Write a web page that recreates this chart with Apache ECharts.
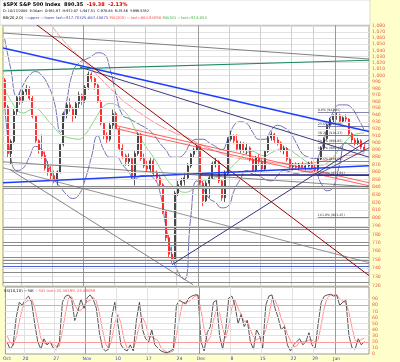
<!DOCTYPE html>
<html><head><meta charset="utf-8">
<script src="https://cdn.jsdelivr.net/npm/echarts@6/dist/echarts.min.js"></script>
<style>html,body{margin:0;padding:0;background:#ffffcc}#c{width:400px;height:362px}</style>
</head><body><div id="c"></div>
<script>
// ---------- DATA ----------
const dayNames = ['Oct 15','Oct 16','Oct 17','Oct 20','Oct 21','Oct 22','Oct 23','Oct 24','Oct 27','Oct 28','Oct 29','Oct 30','Oct 31',
 'Nov 3','Nov 4','Nov 5','Nov 6','Nov 7','Nov 10','Nov 11','Nov 12','Nov 13','Nov 14','Nov 17','Nov 18','Nov 19','Nov 20','Nov 21','Nov 24','Nov 25','Nov 26','Nov 28',
 'Dec 1','Dec 2','Dec 3','Dec 4','Dec 5','Dec 8','Dec 9','Dec 10','Dec 11','Dec 12','Dec 15','Dec 16','Dec 17','Dec 18','Dec 19','Dec 22','Dec 23','Dec 24','Dec 26','Dec 29','Dec 30','Dec 31',
 'Jan 2','Jan 5','Jan 6','Jan 7','Jan 8','Jan 9'];
const sessionsPerDay = [2,2,2,2,2,2,2,2,2,2,2,2,2,
 2,2,2,2,2,2,2,2,2,2,2,2,2,2,2,2,2,2,1,
 2,2,2,2,2,2,2,2,2,2,2,2,2,2,2,2,2,1,2,2,2,2,
 1,2,2,2,2,2];
const weekLabels = {'Oct 15':'Oct','Oct 20':'20','Oct 27':'27','Nov 3':'Nov','Nov 10':'10','Nov 17':'17','Nov 24':'24',
 'Dec 1':'Dec','Dec 8':'8','Dec 15':'15','Dec 22':'22','Dec 29':'29','Jan 5':'Jan'};
const weekStarts = ['Oct 20','Oct 27','Nov 10','Nov 17','Nov 24','Dec 8','Dec 15','Dec 22','Dec 29'];
const monthStarts = ['Nov 3','Dec 1','Jan 5'];

const opens  = [993,952,885,902,945,966,962,975,980,965,938,903,890,882,865,860,855,850,860,898,942,955,950,940,957,970,963,982,1002,995,
 985,960,928,910,905,925,942,920,892,882,874,878,853,885,912,878,868,864,875,858,852,843,808,776,756,750,832,843,848,852,
 868,884,890,895,845,822,845,852,871,874,848,826,858,905,910,903,891,899,890,893,877,862,879,874,864,888,907,912,904,900,
 890,892,877,867,868,866,869,866,868,871,866,863,878,893,906,925,933,938,940,931,936,934,913,904,899,903,894];
const highs  = [996,955,905,950,970,975,978,985,983,970,940,905,912,888,875,868,862,862,900,945,958,965,952,960,975,972,985,1006,1005,997,
 987,962,930,915,930,948,945,922,898,885,885,880,890,915,914,885,875,880,878,862,856,845,810,780,765,835,848,852,858,872,
 886,893,897,896,848,848,855,874,880,876,850,862,908,917,912,912,902,901,900,895,880,882,884,877,890,910,916,914,908,902,
 896,894,880,872,873,872,874,871,874,875,870,880,895,908,927,936,941,944,942,938,941,935,915,907,907,905,898];
const lows   = [950,880,870,898,940,955,958,970,962,935,900,885,878,862,855,850,845,842,858,895,935,945,930,935,950,955,958,978,990,978,
 958,925,905,900,902,920,918,888,878,868,868,850,842,882,875,865,860,860,855,848,840,805,772,752,746,748,828,838,842,850,
 865,880,888,842,815,820,826,850,866,845,822,820,855,902,898,888,886,886,884,874,858,858,868,860,862,886,903,900,896,887,
 884,874,864,862,863,862,864,862,866,864,860,861,876,890,904,920,929,933,928,929,930,910,900,896,897,891,888];
const closes = [952,885,902,945,966,962,975,980,965,938,903,890,882,865,860,855,850,860,898,942,955,950,940,957,970,963,982,1002,995,985,
 960,928,910,905,925,942,920,892,882,874,878,853,885,912,878,868,864,875,858,852,843,808,776,756,750,832,843,848,852,868,
 884,890,895,845,822,845,852,871,874,848,826,858,905,910,903,891,899,890,893,877,862,879,874,864,888,907,912,904,900,890,
 892,877,867,868,866,869,866,868,871,866,863,878,893,906,925,933,938,940,931,936,934,913,904,899,903,894,890.35];

// overlays sampled every second session
const bandSlots = [0,2,4,6,8,10,12,14,16,18,20,22,24,26,28,30,32,34,36,38,40,42,44,46,48,50,52,54,56,58,60,62,64,66,68,70,72,74,76,78,80,82,84,86,88,90,92,94,96,98,100,102,104,106,108,110,112,114,116];
const bbUpper = [1060,1010,968,985,1000,1006,1000,985,960,915,960,1005,1020,1025,1030,1036,1034,1010,970,940,935,930,925,920,912,900,890,880,880,885,
 900,905,905,900,895,890,905,925,930,928,915,905,905,918,925,922,915,900,885,880,878,890,920,945,955,955,950,935,918];
const bbLower = [960,880,862,865,880,895,890,870,850,840,830,825,830,850,880,910,890,880,880,870,860,850,855,855,852,835,790,755,735,727,
 800,848,838,825,820,813,815,835,850,862,857,855,850,848,855,862,860,858,860,861,860,845,835,840,870,900,895,890,887];
const ma50 = [977,962,948,943,947,950,943,932,922,912,908,906,905,912,925,940,953,957,955,948,938,920,905,892,880,866,852,842,836,833,
 835,842,848,850,852,856,862,870,878,886,888,884,882,886,890,893,890,884,878,872,869,869,872,880,892,902,910,913,914];
const ma200 = [1160,1150,1140,1130,1120,1110,1100,1088,1075,1062,1050,1040,1030,1020,1010,1000,990,980,972,962,955,948,942,936,930,925,920,916,912,909,
 905,900,896,892,889,885,882,880,878,877,876,875,874,873,872,872,871,871,871,872,873,874,876,878,880,882,883,884,885];

const stochK = [20,8,15,60,85,80,90,95,85,50, 20,8,25,15,20,10,8,20,85,95, 97,90,55,70,90,75,92,97,90,75, 35,10,5,8,60,85,50,15,8,5,
 15,5,55,85,40,25,20,40,15,10, 5,3,2,5,8,80,88,85,82,92, 95,97,97,20,5,35,45,85,88,30, 8,40,92,95,80,50,65,45,55,20,
 8,40,30,10,80,95,97,75,60,40, 45,15,5,15,20,25,15,20,35,15, 8,50,85,95,97,98,95,97,80,85, 88,30,10,8,25,15,20.36];
const stochD = [30,20,14,28,53,75,85,88,90,77, 52,26,18,16,20,15,13,13,38,67, 92,94,81,72,72,78,86,88,93,87, 67,40,17,8,24,51,65,50,24,9,
 9,8,25,48,60,50,28,28,25,22, 10,6,3,3,5,31,59,84,85,86, 90,95,96,71,41,20,28,55,73,68, 42,26,47,76,89,75,65,53,55,40,
 28,23,26,27,40,62,91,89,77,58, 48,33,22,12,13,20,20,20,23,23, 19,24,48,77,92,97,97,97,91,87, 84,68,43,22,20,24,25.89];

const priceTicks = [720,730,740,750,760,770,780,790,800,810,820,830,840,850,860,870,880,890,900,910,920,930,940,950,960,970,980,990,1000,1010,1020,1030,1040,1050,1060,1070,1080];
const oscTicks = [10,20,30,40,50,60,70,80,90];
const oscBands = [20,80];
const srLevels = [840.5,838,789,786,771,767,752,749,745,735,724];
const srBlueLevel = [741.5];
const lastPrice = 890.35;

// trend lines: [session position, price]
const tlMaroon   = [[10.46,1082],[117.5,731.3]];
const tlBlue     = [[-0.5,1043.7],[117.5,916]];
const tlNavy     = [[24.3,1013],[117.5,880]];
const tlTeal     = [[-0.5,1007],[117.5,1024]];
const tlGrayTop  = [[-0.5,1068.5],[117.5,1026]];
const tlRedA     = [[36.25,924.2],[117.5,845.5]];
const tlRedB     = [[36.25,919.8],[117.5,841.5]];
const tlBlueLow  = [[-0.5,845.5],[117.5,868.3]];
const tlNavyFlat = [[63.0,855.84],[117.5,855.84]];
const tlNavyUp   = [[54.0,744],[117.5,904]];
const tlGrayUp   = [[100.7,856],[117.5,893]];
const tlGrayDiag = [[1.76,863],[60.75,721]];
const tlGrayMid  = [[-0.5,873.7],[117.5,840.2]];
const tlGrayLow  = [[-0.5,865.5],[117.5,746.3]];

const fibLabels = ['0.0%','23.6%','38.2%','50.0%','61.8%','78.6%','100.0%','161.8%'];
const fibValues = [943.85,923.08,910.23,899.85,889.47,874.64,855.84,801.45];
const fibStart = 101.0;

// ---------- BUILD ----------
const cats = []; const firstSlot = {};
dayNames.forEach((d,k)=>{ firstSlot[d]=cats.length; for(let j=0;j<sessionsPerDay[k];j++) cats.push(d+' #'+(j+1)); });
cats.push(' ');
const nCat = cats.length;
const candleData = opens.map((o,i)=>[o, closes[i], lows[i], highs[i]]);
const pair = (arr)=>bandSlots.map((s,k)=>[s, arr[k]]);
const fmtPrice = v => v.toLocaleString('en-US');

const FONT = 'DejaVu Sans';
const tl = (d,color,width)=>({type:'line', xAxisIndex:1, yAxisIndex:0, data:d, symbol:'none', silent:true, z:5,
  lineStyle:{color, width}, animation:false});

const series = [
 {type:'line', xAxisIndex:1, yAxisIndex:0, data:[], z:1, silent:true,
  markLine:{silent:true, symbol:'none', animation:false,
   lineStyle:{color:'#e2e2e2', width:1, type:'solid'},
   label:{position:'end', formatter:p=>fmtPrice(p.value), color:'#e8604c', fontSize:4.6, fontFamily:FONT, distance:3},
   data: priceTicks.map(v=>({yAxis:v}))}},
 {type:'line', xAxisIndex:1, yAxisIndex:0, data:[], z:1, silent:true,
  markLine:{silent:true, symbol:'none', animation:false, label:{show:false},
   lineStyle:{color:'#cfcfcf', width:1, type:'solid'},
   data: weekStarts.map(d=>({xAxis:firstSlot[d]-0.5}))}},
 {type:'line', xAxisIndex:1, yAxisIndex:0, data:[], z:1, silent:true,
  markLine:{silent:true, symbol:'none', animation:false, label:{show:false},
   lineStyle:{color:'#9a9a9a', width:1, type:'solid'},
   data: monthStarts.map(d=>({xAxis:firstSlot[d]-0.5}))}},
 {type:'line', xAxisIndex:1, yAxisIndex:0, data:[], z:2, silent:true,
  markLine:{silent:true, symbol:'none', animation:false, label:{show:false},
   lineStyle:{color:'#8a8a8a', width:1, type:'solid'},
   data: srLevels.map(v=>({yAxis:v}))}},
 {type:'line', xAxisIndex:1, yAxisIndex:0, data:[], z:2, silent:true,
  markLine:{silent:true, symbol:'none', animation:false, label:{show:false},
   lineStyle:{color:'#4a5fd0', width:1, type:'solid'},
   data: srBlueLevel.map(v=>({yAxis:v}))}},
 {type:'line', xAxisIndex:0, yAxisIndex:0, data:pair(ma200), symbol:'none', smooth:true, lineStyle:{color:'#ff8c8c', width:1}, z:3, silent:true},
 {type:'line', xAxisIndex:0, yAxisIndex:0, data:pair(ma50), symbol:'none', smooth:true, lineStyle:{color:'#7fd67f', width:1}, z:3, silent:true},
 {type:'line', xAxisIndex:0, yAxisIndex:0, data:pair(bbUpper), symbol:'none', smooth:true, lineStyle:{color:'#6f6fb8', width:1}, z:3, silent:true},
 {type:'line', xAxisIndex:0, yAxisIndex:0, data:pair(bbLower), symbol:'none', smooth:true, lineStyle:{color:'#6f6fb8', width:1}, z:3, silent:true},
 {type:'candlestick', xAxisIndex:0, yAxisIndex:0, data:candleData, barWidth:1.5, z:4, silent:true,
  itemStyle:{color:'#333', color0:'#ff1a1a', borderColor:'#333', borderColor0:'#ff1a1a', borderWidth:0.8},
  markLine:{silent:true, symbol:'none', animation:false, lineStyle:{opacity:0},
   label:{position:'end', formatter:()=>lastPrice.toFixed(2), backgroundColor:'#000', color:'#fff', fontSize:5.5, fontWeight:'bold', fontFamily:FONT, padding:[1,4,1,2], distance:2},
   data:[{yAxis:lastPrice}]}},
 tl(tlGrayTop,'#808080',1),
 tl(tlTeal,'#1e8c5e',1.2),
 tl(tlBlue,'#1f3dff',1.4),
 tl(tlNavy,'#3a3a80',1),
 tl(tlMaroon,'#990000',1),
 tl(tlRedA,'#ff3b3b',0.8),
 tl(tlRedB,'#ff3b3b',0.8),
 tl(tlBlueLow,'#1f3dff',1.4),
 tl(tlNavyFlat,'#1a1a80',1.6),
 tl(tlNavyUp,'#333380',1),
 tl(tlGrayUp,'#555588',1),
 tl(tlGrayDiag,'#666',0.8),
 tl(tlGrayMid,'#666',0.8),
 tl(tlGrayLow,'#777',0.8),
 {type:'line', xAxisIndex:1, yAxisIndex:0, data:[], z:5, silent:true,
  markLine:{silent:true, symbol:'none', animation:false,
   lineStyle:{color:'#666699', width:0.8, type:'solid'},
   label:{position:'insideStartTop', color:'#333', fontSize:3.2, fontFamily:FONT, distance:[0,0.5]},
   data: fibValues.map((v,k)=>[{coord:[fibStart,v], label:{formatter: fibLabels[k]+' ('+v.toFixed(2)+')'}},{coord:[117.5,v]}])}},
 {type:'line', xAxisIndex:3, yAxisIndex:1, data:[], z:1, silent:true,
  markLine:{silent:true, symbol:'none', animation:false, label:{show:false},
   lineStyle:{color:'#e2e2e2', width:1, type:'solid'},
   data: oscTicks.map(v=>({yAxis:v})).concat(weekStarts.map(d=>({xAxis:firstSlot[d]-0.5})))}},
 {type:'line', xAxisIndex:3, yAxisIndex:1, data:[], z:1, silent:true,
  markLine:{silent:true, symbol:'none', animation:false, label:{show:false},
   lineStyle:{color:'#9a9a9a', width:1, type:'solid'},
   data: monthStarts.map(d=>({xAxis:firstSlot[d]-0.5}))}},
 {type:'line', xAxisIndex:3, yAxisIndex:1, data:[], z:2, silent:true,
  markLine:{silent:true, symbol:'none', animation:false, label:{show:false},
   lineStyle:{color:'#ff9a9a', width:1, type:'solid'},
   data: oscBands.map(v=>({yAxis:v}))}},
 {type:'line', xAxisIndex:2, yAxisIndex:1, data:stochD, symbol:'none', lineStyle:{color:'#ff9090', width:1}, z:3, silent:true},
 {type:'line', xAxisIndex:2, yAxisIndex:1, data:stochK, symbol:'none', lineStyle:{color:'#444', width:0.9}, z:4, silent:true}
];

const hidden = {axisLine:{show:false}, axisTick:{show:false}, axisLabel:{show:false}, splitLine:{show:false}};
const option = {
 animation:false,
 backgroundColor:'#ffffcc',
 grid:[
  {left:3, top:25, width:366, height:261, show:true, backgroundColor:'#fff', borderColor:'#999', borderWidth:1},
  {left:3, top:287, width:366, height:67, show:true, backgroundColor:'#fff', borderColor:'#999', borderWidth:1}
 ],
 xAxis:[
  Object.assign({type:'category', gridIndex:0, data:cats, boundaryGap:true}, hidden),
  Object.assign({type:'value', gridIndex:0, min:-0.5, max:nCat-0.5}, hidden),
  {type:'category', gridIndex:1, data:cats, boundaryGap:true, axisLine:{show:false}, axisTick:{show:false}, splitLine:{show:false},
   axisLabel:{show:true, interval:(i,v)=>{const d=v.split(' #')[0]; return v.endsWith('#1') && !!weekLabels[d];},
    formatter:v=>weekLabels[v.split(' #')[0]]||'', color:'#2b3fc8', fontSize:4.6, fontFamily:FONT, margin:2}},
  Object.assign({type:'value', gridIndex:1, min:-0.5, max:nCat-0.5}, hidden)
 ],
 yAxis:[
  Object.assign({type:'log', gridIndex:0, min:719.5, max:1082, position:'right'}, hidden),
  {type:'value', gridIndex:1, min:0, max:110, interval:10, position:'right', axisLine:{show:false}, axisTick:{show:false}, splitLine:{show:false},
   axisLabel:{formatter:v=> v<=90 ? String(v) : '', color:'#e8604c', fontSize:4.6, fontFamily:FONT, margin:3}}
 ],
 graphic:[
  {type:'rect', shape:{x:0,y:0,width:370,height:25}, style:{fill:'#fff', stroke:'#bbb', lineWidth:0.5}, silent:true},
  {type:'text', x:3, y:2, silent:true, style:{text:'{b|$SPX S&P 500 Index  890.35}  {r|-19.38  -2.13%}', font:'bold 5px DejaVu Sans',
    rich:{b:{fontWeight:'bold', fontSize:5, fontFamily:FONT, fill:'#000'}, r:{fontWeight:'bold', fontSize:5, fontFamily:FONT, fill:'#e00000'}}}},
  {type:'text', x:3, y:10, silent:true, style:{text:'D: 10/17/2008  9:30am  O:951.67  H:972.07  L:947.51  C:970.88  R:25.56  Y:996.5352', font:'3.4px DejaVu Sans', fill:'#000'}},
  {type:'text', x:3, y:16, silent:true, style:{text:'{k|BB(20,2.0)} {u|\u2014upper \u2014lower last=917.70325;887.40875} {m|MA(200) \u2014last=884.93098} {g|MA(50) \u2014last=913.853}',
    font:'3.8px DejaVu Sans',
    rich:{k:{fill:'#000', fontSize:3.8, fontFamily:FONT}, u:{fill:'#4a4ab0', fontSize:3.8, fontFamily:FONT}, m:{fill:'#ff5050', fontSize:3.8, fontFamily:FONT}, g:{fill:'#3cb83c', fontSize:3.8, fontFamily:FONT}}}},
  {type:'text', x:4, y:289, silent:true, z:10, style:{text:'{k|SS(10,10) \u2014%K} {d|\u2014%D last=20.36199, 25.89099}', font:'3.8px DejaVu Sans',
    rich:{k:{fill:'#000', fontSize:3.8, fontFamily:FONT}, d:{fill:'#ff5050', fontSize:3.8, fontFamily:FONT}}}}
 ],
 series
};
const chart = echarts.init(document.getElementById('c'), null, {renderer:'canvas', width:400, height:362});
chart.setOption(option);
</script>
</body></html>
